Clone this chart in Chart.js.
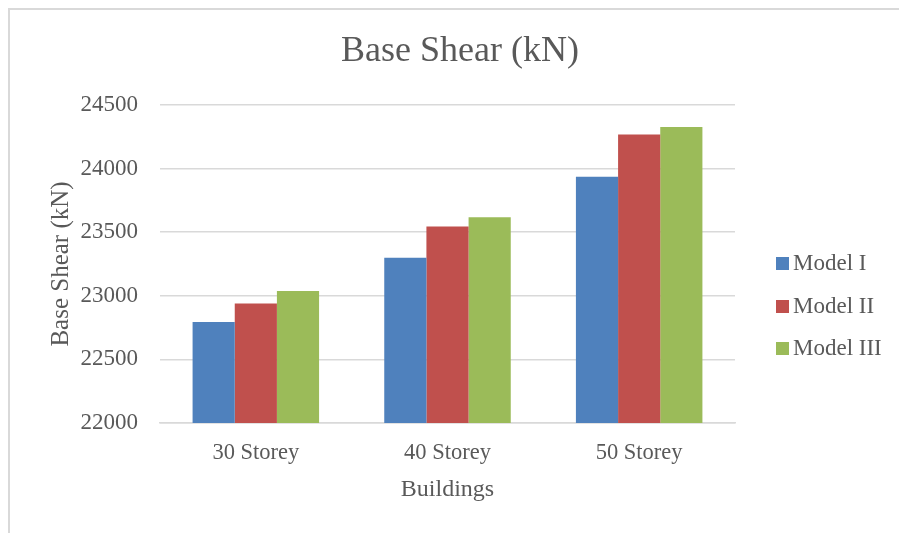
<!DOCTYPE html>
<html>
<head>
<meta charset="utf-8">
<script src="https://cdn.jsdelivr.net/npm/chart.js@4"></script>
<style>
  html, body { margin: 0; padding: 0; background: #fff; overflow: hidden; }
  #frame { position: absolute; left: 8px; top: 8px; width: 1000px; height: 700px; border: 2px solid #d9d9d9; }
  #wrap { position: absolute; left: 0; top: 0; width: 899px; height: 533px; }
</style>
</head>
<body>
<div id="frame"></div>
<div id="wrap"><canvas id="chart" width="899" height="533"></canvas></div>
<script>
var categories = ['30 Storey', '40 Storey', '50 Storey'];
var modelI = [22795, 23300, 23935];
var modelII = [22940, 23545, 24268];
var modelIII = [23037, 23618, 24327];
var yTicks = [22000, 22500, 23000, 23500, 24000, 24500];

var FONT = "'Liberation Serif', 'Times New Roman', serif";
var TEXT = '#595959';

// Title and legend drawn by hand so they sit where Excel puts them
var overlay = {
    id: 'overlay',
    afterDraw: function (chart) {
        var ctx = chart.ctx;
        ctx.save();
        ctx.fillStyle = TEXT;
        ctx.font = '36px ' + FONT;
        ctx.textAlign = 'center';
        ctx.textBaseline = 'middle';
        ctx.fillText('Base Shear (kN)', 460, 52);

        ctx.font = '23px ' + FONT;
        ctx.textAlign = 'left';
        var ys = [263, 306, 348];
        chart.data.datasets.forEach(function (ds, i) {
            ctx.fillStyle = ds.backgroundColor;
            ctx.fillRect(776, ys[i] - 6, 13, 13);
            ctx.fillStyle = TEXT;
            ctx.fillText(ds.label, 793, ys[i] + 1);
        });
        ctx.restore();
    }
};

new Chart(document.getElementById('chart'), {
    type: 'bar',
    data: {
        labels: categories,
        datasets: [
            { label: 'Model I', data: modelI, backgroundColor: '#4F81BD' },
            { label: 'Model II', data: modelII, backgroundColor: '#C0504D' },
            { label: 'Model III', data: modelIII, backgroundColor: '#9BBB59' }
        ]
    },
    options: {
        responsive: false,
        animation: false,
        layout: { padding: { top: 105, right: 164, left: 0, bottom: 0 } },
        datasets: { bar: { categoryPercentage: 0.66, barPercentage: 1 } },
        scales: {
            x: {
                grid: { display: false, drawTicks: false },
                border: { color: '#d9d9d9', width: 1.5 },
                ticks: { color: TEXT, font: { family: FONT, size: 22.5 }, padding: 17 },
                title: { display: true, text: 'Buildings', color: TEXT, font: { family: FONT, size: 24 }, padding: { top: 4, bottom: 29 } },
                afterFit: function (scale) { scale.height = 110; }
            },
            y: {
                min: 22000,
                max: 24500,
                afterBuildTicks: function (scale) {
                    scale.ticks = yTicks.map(function (v) { return { value: v }; });
                },
                grid: { color: '#d9d9d9', lineWidth: 1.5, drawTicks: false },
                border: { display: false },
                ticks: {
                    color: TEXT,
                    font: { family: FONT, size: 23 },
                    padding: 22,
                    callback: function (v) { return String(v); }
                },
                title: { display: true, text: 'Base Shear (kN)', color: TEXT, font: { family: FONT, size: 25 }, padding: { top: 46, bottom: 0 } },
                afterFit: function (scale) { scale.width = 160; }
            }
        },
        plugins: {
            legend: { display: false },
            title: { display: false },
            tooltip: { enabled: false }
        }
    },
    plugins: [overlay]
});
</script>
</body>
</html>
